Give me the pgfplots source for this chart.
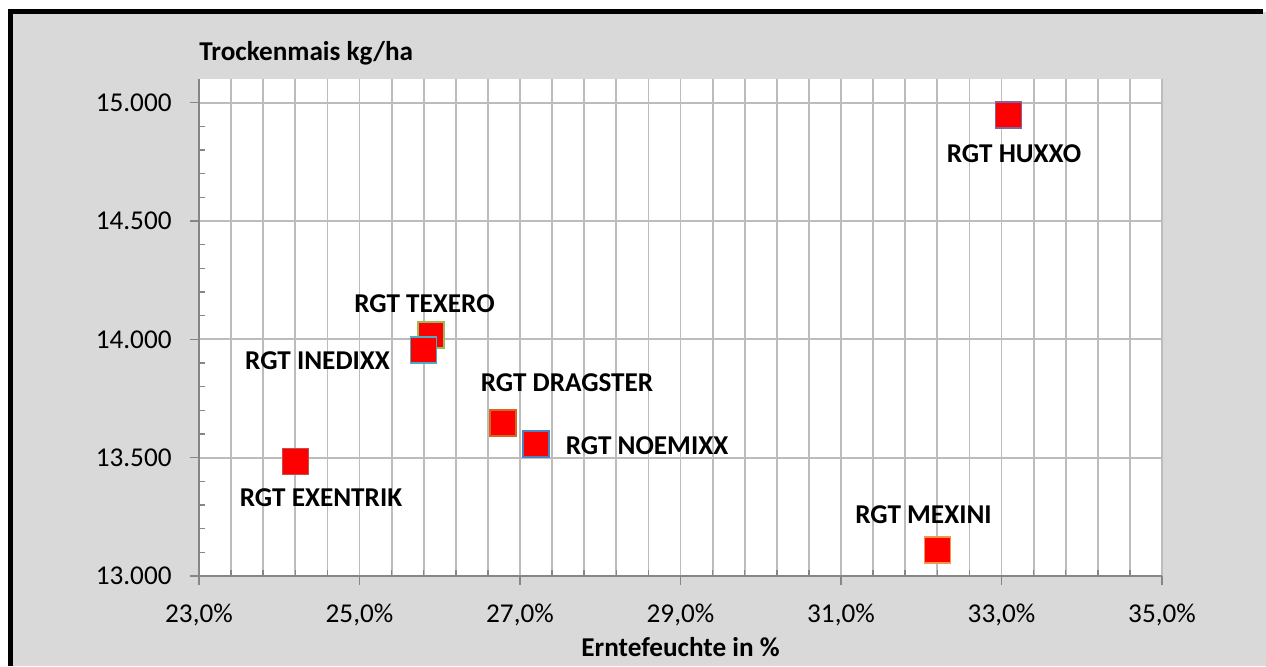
\documentclass[border=0pt]{standalone}
\usepackage{fontspec}
\setmainfont{Carlito}
\usepackage{pgfplots}
\pgfplotsset{compat=1.18}
\definecolor{bg}{HTML}{D9D9D9}
\definecolor{gridc}{HTML}{BCBCBC}
\definecolor{axc}{HTML}{868686}
\definecolor{cHux}{HTML}{8064A2}
\definecolor{cMex}{HTML}{F79646}
\definecolor{cExe}{HTML}{C0504D}
\definecolor{cDra}{HTML}{D2691E}
\definecolor{cNoe}{HTML}{4F81BD}
\definecolor{cTex}{HTML}{9BBB59}
\definecolor{cIne}{HTML}{4BACC6}
\newcommand{\fs}{\fontsize{13.6}{16}\selectfont}
\begin{document}
\begin{tikzpicture}
\useasboundingbox (0,0) rectangle (633pt,333pt);
\fill[white] (0,0) rectangle (633pt,333pt);
\fill[bg] (5.25pt,0) rectangle (633pt,327.15pt);
\fill[black] (4pt,0pt) rectangle (6.5pt,328.4pt);
\fill[black] (4pt,325.9pt) rectangle (631.5pt,328.4pt);
\begin{axis}[
  at={(99.5pt,45pt)}, anchor=south west,
  scale only axis, width=481.5pt, height=248.5pt,
  xmin=23, xmax=35, ymin=13000, ymax=15100,
  axis background/.style={fill=white},
  axis lines=left, axis line style={-, draw=axc, line width=0.75pt},
  xtick={23,25,27,29,31,33,35},
  xticklabels={{23,0\%},{25,0\%},{27,0\%},{29,0\%},{31,0\%},{33,0\%},{35,0\%}},
  ytick={13000,13500,14000,14500,15000},
  yticklabels={{13.000},{13.500},{14.000},{14.500},{15.000}},
  scaled y ticks=false, scaled x ticks=false,
  minor x tick num=4, minor y tick num=4,
  xmajorgrids, xminorgrids, ymajorgrids,
  grid style={draw=gridc, line width=0.9pt},
  minor grid style={draw=gridc, line width=0.9pt},
  tick align=inside,
  major tick length=-4.5pt, minor tick length=3pt,
  tick style={draw=axc, line width=0.75pt},
  xticklabel style={font=\fs, anchor=north, inner sep=0pt, yshift=-14pt},
  yticklabel style={font=\fs, anchor=east, inner sep=0pt, xshift=-13.5pt},
  clip=false,
]
\addplot[only marks, mark=square*, mark size=6.5pt, mark options={fill=red, draw=cHux, line width=0.75pt}] coordinates {(33.09,14948)};
\addplot[only marks, mark=square*, mark size=6.5pt, mark options={fill=red, draw=cMex, line width=0.75pt}] coordinates {(32.2,13110)};
\addplot[only marks, mark=square*, mark size=6.5pt, mark options={fill=red, draw=cExe, line width=0.75pt}] coordinates {(24.2,13483)};
\addplot[only marks, mark=square*, mark size=6.5pt, mark options={fill=red, draw=cDra, line width=0.75pt}] coordinates {(26.79,13646)};
\addplot[only marks, mark=square*, mark size=6.5pt, mark options={fill=red, draw=cNoe, line width=0.75pt}] coordinates {(27.2,13558)};
\addplot[only marks, mark=square*, mark size=6.5pt, mark options={fill=red, draw=cTex, line width=0.75pt}] coordinates {(25.89,14018)};
\addplot[only marks, mark=square*, mark size=6.5pt, mark options={fill=red, draw=cIne, line width=0.75pt}] coordinates {(25.795,13955)};
\end{axis}
\begin{scope}[every node/.style={font=\fs\bfseries, inner sep=0pt, anchor=base}]
\node at (507pt,251.5pt) {RGT HUXXO};
\node at (461.75pt,71.5pt) {RGT MEXINI};
\node at (160.5pt,80pt) {RGT EXENTRIK};
\node at (283.5pt,137.5pt) {RGT DRAGSTER};
\node at (323.5pt,106pt) {RGT NOEMIXX};
\node at (212.25pt,177pt) {RGT TEXERO};
\node at (158.75pt,148.5pt) {RGT INEDIXX};
\node[anchor=base west] at (99.5pt,302.5pt) {Trockenmais kg/ha};
\node at (340.25pt,4.75pt) {Erntefeuchte in \%};
\end{scope}
\end{tikzpicture}
\end{document}
